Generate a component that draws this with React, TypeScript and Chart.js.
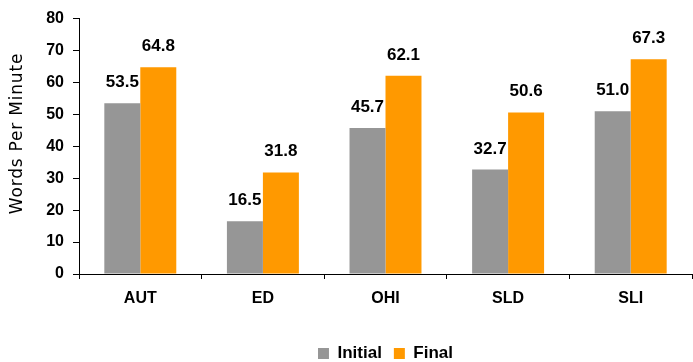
import React, { useEffect, useRef } from "react";
import { Chart, registerables } from "chart.js";

Chart.register(...registerables);

const categories = ["AUT", "ED", "OHI", "SLD", "SLI"];
const initialValues = [53.5, 16.5, 45.7, 32.7, 51.0];
const finalValues = [64.8, 31.8, 62.1, 50.6, 67.3];
const seriesNames = ["Initial", "Final"];
const yMin = 0;
const yMax = 80;
const yStep = 10;
const yAxisTitle = "Words Per Minute";

const FONT = "'Liberation Sans', Arial, Helvetica, sans-serif";
const GRAY = "#969696";
const ORANGE = "#FF9900";

const valueLabels = {
  id: "valueLabels",
  afterDatasetsDraw(chart: any) {
    const ctx = chart.ctx;
    ctx.save();
    ctx.font = `bold 17px ${FONT}`;
    ctx.fillStyle = "#000";
    ctx.textAlign = "center";
    ctx.textBaseline = "alphabetic";
    chart.data.datasets.forEach((ds: any, i: number) => {
      const meta = chart.getDatasetMeta(i);
      meta.data.forEach((el: any, j: number) => {
        const v = ds.data[j];
        ctx.fillText(Number(v).toFixed(1), el.x, el.y - 16);
      });
    });
    ctx.restore();
  },
};

const yTitle = {
  id: "yTitle",
  afterDraw(chart: any) {
    const ctx = chart.ctx;
    ctx.save();
    ctx.translate(18, 133.5);
    ctx.rotate(-Math.PI / 2);
    ctx.font = `17px 'DejaVu Sans', ${FONT}`;
    try {
      (ctx as any).letterSpacing = "0.8px";
    } catch (e) {}
    ctx.fillStyle = "#000";
    ctx.textAlign = "center";
    ctx.textBaseline = "middle";
    ctx.fillText(yAxisTitle, 0, 0);
    ctx.restore();
  },
};

export default function App() {
  const ref = useRef<HTMLCanvasElement | null>(null);

  useEffect(() => {
    document.body.style.margin = "0";
    const canvas = ref.current;
    if (!canvas) return;
    const chart = new Chart(canvas, {
      type: "bar",
      data: {
        labels: categories,
        datasets: [
          {
            label: seriesNames[0],
            data: initialValues,
            backgroundColor: GRAY,
            borderWidth: 0,
            categoryPercentage: 0.587,
            barPercentage: 1,
          },
          {
            label: seriesNames[1],
            data: finalValues,
            backgroundColor: ORANGE,
            borderWidth: 0,
            categoryPercentage: 0.587,
            barPercentage: 1,
          },
        ],
      },
      options: {
        animation: false,
        responsive: false,
        maintainAspectRatio: false,
        devicePixelRatio: 1,
        layout: { padding: { top: 16, right: 1, bottom: -10, left: 0 } },
        plugins: {
          tooltip: { enabled: false },
          title: { display: false },
          legend: {
            display: true,
            position: "bottom",
            fullSize: false,
            labels: {
              boxWidth: 11,
              boxHeight: 11,
              padding: 12,
              color: "#000",
              font: { family: FONT, size: 17, weight: "bold" },
            },
          },
        },
        scales: {
          x: {
            offset: true,
            grid: {
              offset: true,
              drawOnChartArea: false,
              drawTicks: true,
              tickLength: 5,
              color: "#000",
            },
            border: { display: true, color: "#000", width: 1 },
            ticks: {
              color: "#000",
              padding: 10,
              font: { family: FONT, size: 16, weight: "bold" },
            },
            afterFit: (s: any) => {
              s.height = 59;
            },
          },
          y: {
            min: yMin,
            max: yMax,
            grid: {
              drawOnChartArea: false,
              drawTicks: true,
              tickLength: 6,
              color: "#000",
            },
            border: { display: true, color: "#000", width: 1 },
            ticks: {
              stepSize: yStep,
              color: "#000",
              padding: 9,
              font: { family: FONT, size: 16, weight: "bold" },
            },
            afterFit: (s: any) => {
              s.width = 79;
            },
          },
        },
      },
      plugins: [valueLabels, yTitle],
    });
    return () => chart.destroy();
  }, []);

  return (
    <div style={{ width: 693, height: 362 }}>
      <canvas ref={ref} width={693} height={362} style={{ display: "block" }} />
    </div>
  );
}
